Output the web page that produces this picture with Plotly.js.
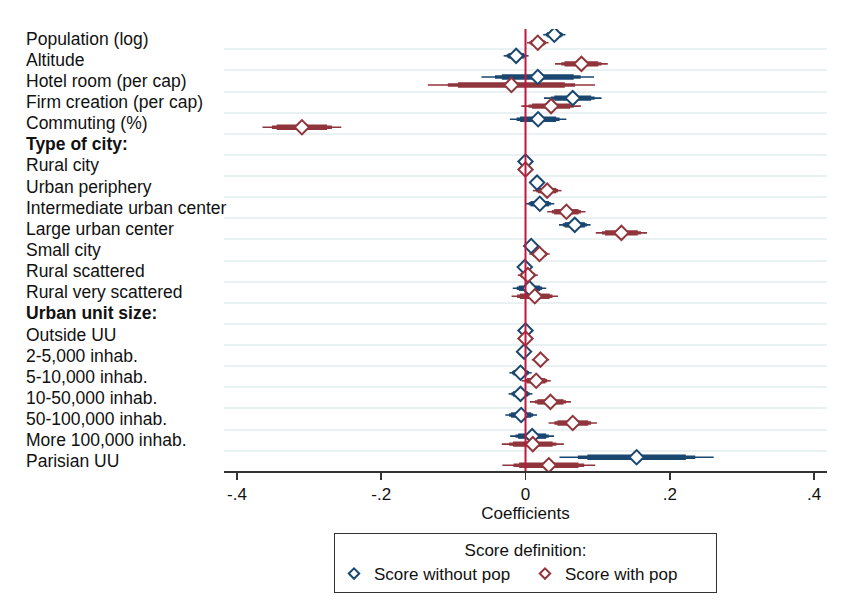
<!DOCTYPE html>
<html>
<head>
<meta charset="utf-8">
<script src="https://cdn.plot.ly/plotly-3.0.1.min.js"></script>
<style>html,body{margin:0;padding:0;background:#fff;}#chart{width:844px;height:614px;}</style>
</head>
<body>
<div id="chart"></div>
<script>
// Row labels (top to bottom)
var labels = [
  "Population (log)", "Altitude", "Hotel room (per cap)", "Firm creation (per cap)", "Commuting (%)",
  "Type of city:", "Rural city", "Urban periphery", "Intermediate urban center", "Large urban center",
  "Small city", "Rural scattered", "Rural very scattered",
  "Urban unit size:", "Outside UU", "2-5,000 inhab.", "5-10,000 inhab.", "10-50,000 inhab.",
  "50-100,000 inhab.", "More 100,000 inhab.", "Parisian UU"
];
var headerLabels = ["Type of city:", "Urban unit size:"];

// Score without pop: coefficients and standard errors
var coefNoPop = [0.040, -0.013, 0.017, 0.0655, 0.0175, null, 0, 0.016, 0.0198, 0.0683,
                 0.0079, -0.001, 0.0055, null, 0, -0.002, -0.0069, -0.0069, -0.006, 0.0092, 0.154];
var seNoPop   = [0.006, 0.0067, 0.0303, 0.0155, 0.0152, null, 0, 0.0025, 0.0078, 0.0085,
                 0.0025, 0.002, 0.009, null, 0, 0.002, 0.006, 0.0064, 0.0085, 0.0118, 0.0415];

// Score with pop
var coefPop = [0.017, 0.0775, -0.0195, 0.0355, -0.310, null, 0, 0.030, 0.0567, 0.133,
               0.0194, 0.0032, 0.0129, null, 0, 0.0208, 0.0148, 0.0346, 0.0655, 0.0101, 0.0323];
var sePop   = [0.0058, 0.0142, 0.045, 0.016, 0.0212, null, 0, 0.0077, 0.0103, 0.0138,
               0.0055, 0.0054, 0.0125, null, 0, 0.0047, 0.0078, 0.011, 0.013, 0.0167, 0.025];

var seriesNames = ["Score without pop", "Score with pop"];
var tickVals = [-0.4, -0.2, 0, 0.2, 0.4];
var tickText = ["-.4", "-.2", "0", ".2", ".4"];

var blue = "#1a476f", red = "#90353b";
var zLevels = [2.576, 1.96, 1.645];      // 99%, 95%, 90% intervals
var widths = [1.6, 3.4, 5.4];
var offset = 0.19;

var rows = labels.map(function(_, i){ return i + 1; });

function ciTraces(coef, se, off, color){
  var out = [];
  zLevels.forEach(function(z, k){
    out.push({
      type: "scatter", mode: "markers",
      x: coef, y: rows.map(function(r){ return r + off; }),
      marker: {size: 1, color: "rgba(0,0,0,0)"},
      error_x: {type: "data", symmetric: true,
                array: se.map(function(s){ return s == null ? null : s * z; }),
                color: color, thickness: widths[k], width: 0},
      showlegend: false, hoverinfo: "skip"
    });
  });
  return out;
}
function markerTrace(coef, off, color, name){
  return {
    type: "scatter", mode: "markers", name: name,
    x: coef, y: rows.map(function(r){ return r + off; }),
    marker: {symbol: "diamond", size: 11, color: "#fff", line: {color: color, width: 2}},
    showlegend: false, legendgroup: name
  };
}
function legendTrace(color, name){
  return {
    type: "scatter", mode: "markers", name: name, x: [null], y: [null],
    marker: {symbol: "diamond", size: 8, color: "#fff", line: {color: color, width: 2}},
    showlegend: true, legendgroup: name
  };
}

var data = []
  .concat(ciTraces(coefNoPop, seNoPop, -offset, blue))
  .concat(ciTraces(coefPop, sePop, offset, red))
  .concat([markerTrace(coefNoPop, -offset, blue, seriesNames[0]),
           markerTrace(coefPop, offset, red, seriesNames[1]),
           legendTrace(blue, seriesNames[0]),
           legendTrace(red, seriesNames[1])]);

var gridVals = [];
for (var i = 1; i < labels.length; i++) gridVals.push(i + 0.5);

var annotations = labels.map(function(l, i){
  var isH = headerLabels.indexOf(l) >= 0;
  return {
    xref: "paper", yref: "y", x: -0.331, y: rows[i], xanchor: "left", yanchor: "middle",
    text: isH ? "<b>" + l + "</b>" : l, showarrow: false,
    font: {family: "Liberation Sans, Arial, sans-serif", size: 17.5, color: "#111"}
  };
});

var layout = {
  width: 844, height: 614,
  margin: {l: 224, r: 17, t: 29, b: 143},
  paper_bgcolor: "#fff", plot_bgcolor: "#fff",
  font: {family: "Liberation Sans, Arial, sans-serif", size: 17, color: "#111"},
  xaxis: {
    range: [-0.418, 0.418], tickvals: tickVals, ticktext: tickText,
    ticks: "outside", ticklen: 7, tickwidth: 1.5, tickcolor: "#333",
    showline: true, linecolor: "#333", linewidth: 1.5,
    showgrid: false, zeroline: false,
    title: {text: "Coefficients", standoff: 4, font: {size: 17}},
    tickfont: {size: 17}
  },
  yaxis: {
    range: [21.46, 0.54], tickvals: gridVals, showticklabels: false, ticks: "",
    showgrid: true, gridcolor: "#eaf1f3", gridwidth: 2, zeroline: false, showline: false
  },
  shapes: [{type: "line", xref: "x", yref: "paper", x0: 0, x1: 0, y0: 0, y1: 1,
            line: {color: "#c3163f", width: 2}}],
  annotations: annotations,
  showlegend: true,
  legend: {
    orientation: "h", x: 0.5, xanchor: "center", y: -0.14, yanchor: "top",
    title: {text: "Score definition:", side: "top center", font: {size: 17}},
    bordercolor: "#333", borderwidth: 1, bgcolor: "#fff",
    font: {size: 17}, entrywidth: 146, entrywidthmode: "pixels", itemwidth: 30
  }
};

Plotly.newPlot("chart", data, layout, {displayModeBar: false, staticPlot: true});
</script>
</body>
</html>
